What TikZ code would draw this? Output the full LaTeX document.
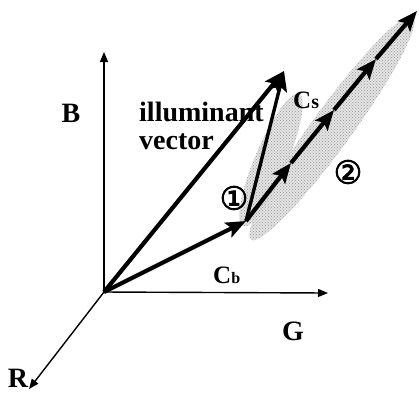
\documentclass[tikz,border=0pt]{standalone}
\usepackage{fontspec}
\setmainfont{Liberation Serif}
\newfontfamily\symfont[FakeBold=2.5]{DejaVu Sans}
\usetikzlibrary{arrows.meta,patterns}
\begin{document}
\begin{tikzpicture}[x=1pt,y=-1pt,
  axis/.style={line width=1.4pt,-{Triangle[length=10pt,width=8pt]}},
  vec/.style={line width=4.2pt,-{Stealth[length=20pt,width=16pt,inset=4pt]}},
  lbl/.style={font=\bfseries\fontsize{28}{29}\selectfont,inner sep=0pt},
  circ/.style={font=\symfont\fontsize{32}{32}\selectfont,inner sep=0pt},
  shade/.style={fill=gray!22},
  dotted shade/.style={pattern=crosshatch dots,pattern color=gray!80}]
\useasboundingbox (0,0) rectangle (419,392);
% coordinates
\coordinate (O) at (104,292);
\coordinate (Bt) at (104,52);
\coordinate (Gt) at (328,293);
\coordinate (Rt) at (29,389);
\coordinate (I) at (284,71);
\coordinate (Cb) at (246,221);
\coordinate (P1) at (291,163);
\coordinate (P2) at (334,110);
\coordinate (P3) at (376,59);
\coordinate (P4) at (417,11);
% shaded regions
\foreach \s in {shade,dotted shade}{
  \path[\s,rotate around={67:(271,160)}] (271,160) ellipse [x radius=72pt, y radius=16pt];
  \path[\s,rotate around={54:(332,128)}] (332,128) ellipse [x radius=138pt, y radius=20pt];
}
% axes
\draw[axis] (O) -- (Bt);
\draw[axis] (O) -- (Gt);
\draw[axis] (O) -- (Rt);
% vectors
\draw[vec] (O) -- (I);
\draw[vec] (O) -- (Cb);
\draw[line width=3.4pt,-{Stealth[length=20pt,width=16pt,inset=4pt]}] (Cb) -- (I);
\draw[vec] (Cb) -- (P1);
\draw[vec] (P1) -- (P2);
\draw[vec] (P2) -- (P3);
\draw[vec] (P3) -- (P4);
% labels
\node[lbl,anchor=base] (lB) at (71,122) {B};
\node[lbl,anchor=base west] (lill) at (139,121) {illuminant};
\node[lbl,anchor=base west] (lvec) at (139,149) {vector};
\node[lbl,anchor=base west,font=\bfseries\fontsize{25}{26}\selectfont] (lCs) at (293,108) {C{\fontsize{20}{20}\selectfont s}};
\node[circ] (c1) at (234,198) {①};
\node[circ] (c2) at (348,172) {②};
\node[lbl,anchor=base west,font=\bfseries\fontsize{25}{26}\selectfont] (lCb) at (213,283) {C{\fontsize{16}{16}\selectfont b}};
\node[lbl,anchor=base] (lG) at (293,340) {G};
\node[lbl,anchor=base] (lR) at (18,387) {R};
\end{tikzpicture}
\end{document}
